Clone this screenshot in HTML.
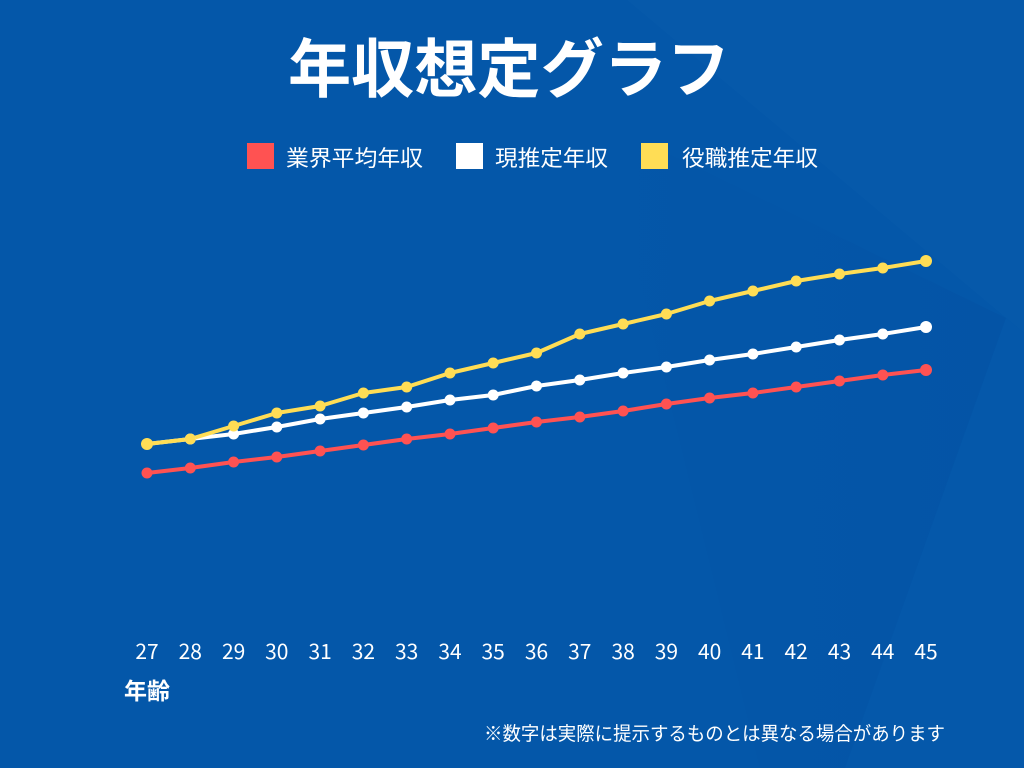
<!DOCTYPE html>
<html>
<head>
<meta charset="utf-8">
<style>
  html,body{margin:0;padding:0;background:#0457a9;}
  svg{display:block;}
  text{font-family:"Liberation Sans","Noto Sans CJK JP",sans-serif;}
  .cjk{font-family:"Noto Sans CJK JP","Liberation Sans",sans-serif;}
</style>
</head>
<body>
<svg width="1024" height="768" viewBox="0 0 1024 768" xmlns="http://www.w3.org/2000/svg">
  <defs>
    <linearGradient id="dk" x1="0" y1="0" x2="1" y2="0">
      <stop offset="0" stop-color="#02479a" stop-opacity="0"/>
      <stop offset="1" stop-color="#02479a" stop-opacity="0.18"/>
    </linearGradient>
  </defs>
  <rect x="0" y="0" width="1024" height="768" fill="#0457a9"/>
  <polygon points="627,0 1024,0 1024,333 1006,318" fill="#0659aa"/>
  <polygon points="600,120 1006,318 845,768 760,768" fill="url(#dk)"/>
  <polygon points="1006,318 1024,333 1024,768 845,768" fill="#0558aa"/>

  <text class="cjk" x="288" y="92" font-size="64" font-weight="700" fill="#ffffff" textLength="442" lengthAdjust="spacingAndGlyphs">年収想定グラフ</text>

  <rect x="247" y="143" width="27" height="26" fill="#ff5252"/>
  <text class="cjk" x="286" y="166" font-size="22" fill="#ffffff" textLength="137" lengthAdjust="spacingAndGlyphs">業界平均年収</text>
  <rect x="456" y="143" width="27" height="26" fill="#ffffff"/>
  <text class="cjk" x="495" y="166" font-size="22" fill="#ffffff" textLength="113" lengthAdjust="spacingAndGlyphs">現推定年収</text>
  <rect x="641" y="143" width="27" height="26" fill="#ffdd55"/>
  <text class="cjk" x="682" y="166" font-size="22" fill="#ffffff" textLength="136" lengthAdjust="spacingAndGlyphs">役職推定年収</text>

  <g fill="none" stroke-width="4" stroke-linejoin="round" stroke-linecap="round">
    <polyline stroke="#ff5252" points="147,473 190.3,468 233.6,462 276.8,457 320.1,451 363.4,445 406.7,439 450,434 493.2,428 536.5,422 579.8,417 623.1,411 666.4,404 709.6,398 752.9,393 796.2,387 839.5,381 882.8,375 926,370"/>
    <polyline stroke="#ffffff" points="147,444 190.3,439 233.6,434 276.8,427 320.1,419 363.4,413 406.7,407 450,400 493.2,395 536.5,386 579.8,380 623.1,373 666.4,367 709.6,360 752.9,354 796.2,347 839.5,340 882.8,334 926,327"/>
    <polyline stroke="#ffdd55" points="147,444 190.3,439 233.6,426 276.8,413 320.1,406 363.4,393 406.7,387 450,373 493.2,363 536.5,353 579.8,334 623.1,324 666.4,314 709.6,301 752.9,291 796.2,281 839.5,274 882.8,268 926,261"/>
  </g>
  <g fill="#ff5252">
    <circle cx="147" cy="473" r="5.5"/><circle cx="190.3" cy="468" r="5.5"/><circle cx="233.6" cy="462" r="5.5"/><circle cx="276.8" cy="457" r="5.5"/><circle cx="320.1" cy="451" r="5.5"/><circle cx="363.4" cy="445" r="5.5"/><circle cx="406.7" cy="439" r="5.5"/><circle cx="450" cy="434" r="5.5"/><circle cx="493.2" cy="428" r="5.5"/><circle cx="536.5" cy="422" r="5.5"/><circle cx="579.8" cy="417" r="5.5"/><circle cx="623.1" cy="411" r="5.5"/><circle cx="666.4" cy="404" r="5.5"/><circle cx="709.6" cy="398" r="5.5"/><circle cx="752.9" cy="393" r="5.5"/><circle cx="796.2" cy="387" r="5.5"/><circle cx="839.5" cy="381" r="5.5"/><circle cx="882.8" cy="375" r="5.5"/><circle cx="926" cy="370" r="6"/>
  </g>
  <g fill="#ffffff">
    <circle cx="147" cy="444" r="5.5"/><circle cx="190.3" cy="439" r="5.5"/><circle cx="233.6" cy="434" r="5.5"/><circle cx="276.8" cy="427" r="5.5"/><circle cx="320.1" cy="419" r="5.5"/><circle cx="363.4" cy="413" r="5.5"/><circle cx="406.7" cy="407" r="5.5"/><circle cx="450" cy="400" r="5.5"/><circle cx="493.2" cy="395" r="5.5"/><circle cx="536.5" cy="386" r="5.5"/><circle cx="579.8" cy="380" r="5.5"/><circle cx="623.1" cy="373" r="5.5"/><circle cx="666.4" cy="367" r="5.5"/><circle cx="709.6" cy="360" r="5.5"/><circle cx="752.9" cy="354" r="5.5"/><circle cx="796.2" cy="347" r="5.5"/><circle cx="839.5" cy="340" r="5.5"/><circle cx="882.8" cy="334" r="5.5"/><circle cx="926" cy="327" r="6"/>
  </g>
  <g fill="#ffdd55">
    <circle cx="147" cy="444" r="6"/><circle cx="190.3" cy="439" r="5.5"/><circle cx="233.6" cy="426" r="5.5"/><circle cx="276.8" cy="413" r="5.5"/><circle cx="320.1" cy="406" r="5.5"/><circle cx="363.4" cy="393" r="5.5"/><circle cx="406.7" cy="387" r="5.5"/><circle cx="450" cy="373" r="5.5"/><circle cx="493.2" cy="363" r="5.5"/><circle cx="536.5" cy="353" r="5.5"/><circle cx="579.8" cy="334" r="5.5"/><circle cx="623.1" cy="324" r="5.5"/><circle cx="666.4" cy="314" r="5.5"/><circle cx="709.6" cy="301" r="5.5"/><circle cx="752.9" cy="291" r="5.5"/><circle cx="796.2" cy="281" r="5.5"/><circle cx="839.5" cy="274" r="5.5"/><circle cx="882.8" cy="268" r="5.5"/><circle cx="926" cy="261" r="6"/>
  </g>

  <g class="cjk" font-size="21" fill="#ffffff" text-anchor="middle">
    <text class="cjk" x="147" y="659">27</text>
    <text class="cjk" x="190.3" y="659">28</text>
    <text class="cjk" x="233.6" y="659">29</text>
    <text class="cjk" x="276.8" y="659">30</text>
    <text class="cjk" x="320.1" y="659">31</text>
    <text class="cjk" x="363.4" y="659">32</text>
    <text class="cjk" x="406.7" y="659">33</text>
    <text class="cjk" x="450" y="659">34</text>
    <text class="cjk" x="493.2" y="659">35</text>
    <text class="cjk" x="536.5" y="659">36</text>
    <text class="cjk" x="579.8" y="659">37</text>
    <text class="cjk" x="623.1" y="659">38</text>
    <text class="cjk" x="666.4" y="659">39</text>
    <text class="cjk" x="709.6" y="659">40</text>
    <text class="cjk" x="752.9" y="659">41</text>
    <text class="cjk" x="796.2" y="659">42</text>
    <text class="cjk" x="839.5" y="659">43</text>
    <text class="cjk" x="882.8" y="659">44</text>
    <text class="cjk" x="926" y="659">45</text>
  </g>

  <text class="cjk" x="124" y="699" font-size="23" font-weight="700" fill="#ffffff" textLength="46" lengthAdjust="spacingAndGlyphs">年齢</text>

  <text class="cjk" x="484" y="740" font-size="19" fill="#ffffff" textLength="461" lengthAdjust="spacingAndGlyphs">※数字は実際に提示するものとは異なる場合があります</text>
</svg>
</body>
</html>
